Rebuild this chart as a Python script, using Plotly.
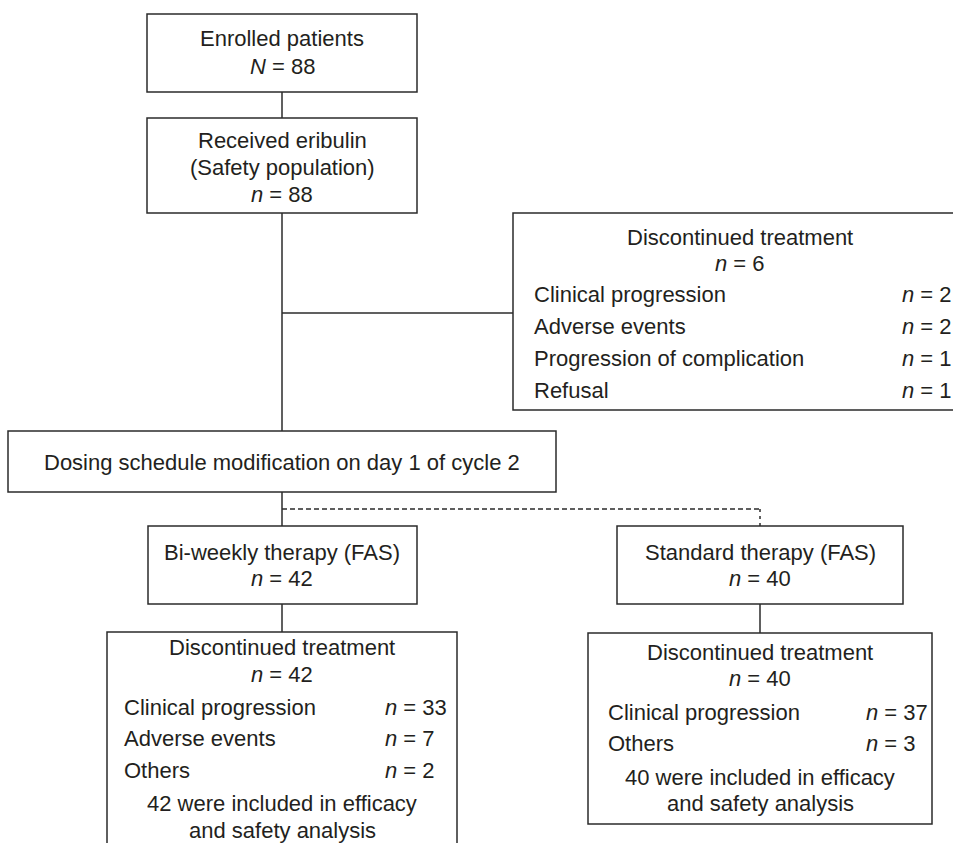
import plotly.graph_objects as go

W, H = 953, 843
FONT = "Liberation Sans, Arial, Helvetica, sans-serif"
TXT = "#231f20"
LINE = "#2b2b2b"
FS = 22

# ---- boxes: (x0, y0, x1, y1) in pixel space of the canvas ----
box_names = ["enrolled", "received", "disc_all", "dosing", "biweekly", "standard", "disc_bw", "disc_std"]
box_x0 = [147, 147, 513, 8, 148, 617, 107, 588]
box_y0 = [14, 118, 213, 431, 526, 526, 632, 633]
box_x1 = [417, 417, 958, 556, 417, 903, 457, 932]
box_y1 = [92, 213, 410, 492, 604, 604, 870, 824]

# ---- connectors ----
solid_lines = [
    ((282, 92), (282, 118)),
    ((282, 213), (282, 431)),
    ((282, 313), (513, 313)),
    ((282, 492), (282, 526)),
    ((282, 604), (282, 632)),
    ((760, 604), (760, 633)),
]
dashed_lines = [((282, 509), (760, 509))]
dotted_lines = [((760, 509), (760, 526))]

# ---- centred texts ----
center_text = [
    "Enrolled patients", "<i>N</i> = 88",
    "Received eribulin", "(Safety population)", "<i>n</i> = 88",
    "Discontinued treatment", "<i>n</i> = 6",
    "Dosing schedule modification on day 1 of cycle 2",
    "Bi-weekly therapy (FAS)", "<i>n</i> = 42",
    "Standard therapy (FAS)", "<i>n</i> = 40",
    "Discontinued treatment", "<i>n</i> = 42",
    "42 were included in efficacy", "and safety analysis",
    "Discontinued treatment", "<i>n</i> = 40",
    "40 were included in efficacy", "and safety analysis",
]
center_x = [282, 282, 282, 282, 282, 740, 740, 282, 282, 282, 760, 760,
            282, 282, 282, 282, 760, 760, 760, 760]
center_y = [38, 66, 140, 167, 194, 237, 263, 462, 552, 578, 552, 578,
            647, 674, 803, 830, 652, 678, 777, 803]

# ---- reason lists ----
reasons_all = ["Clinical progression", "Adverse events", "Progression of complication", "Refusal"]
counts_all = [2, 2, 1, 1]
reasons_bw = ["Clinical progression", "Adverse events", "Others"]
counts_bw = [33, 7, 2]
reasons_std = ["Clinical progression", "Others"]
counts_std = [37, 3]

list_specs = [
    (reasons_all, counts_all, 532, 900, [294, 326, 358, 390]),
    (reasons_bw, counts_bw, 122, 383, [707, 738, 770]),
    (reasons_std, counts_std, 606, 864, [712, 743]),
]

fig = go.Figure()
fig.add_trace(go.Scatter(x=[0, W], y=[0, H], mode="markers",
                         marker=dict(opacity=0), hoverinfo="skip", showlegend=False))

shapes = []
for x0, y0, x1, y1 in zip(box_x0, box_y0, box_x1, box_y1):
    shapes.append(dict(type="rect", xref="x", yref="y", x0=x0, y0=y0, x1=x1, y1=y1,
                       line=dict(color=LINE, width=1.5), fillcolor="rgba(0,0,0,0)"))
for (a, b) in solid_lines:
    shapes.append(dict(type="line", xref="x", yref="y", x0=a[0], y0=a[1], x1=b[0], y1=b[1],
                       line=dict(color=LINE, width=1.5)))
for (a, b) in dashed_lines:
    shapes.append(dict(type="line", xref="x", yref="y", x0=a[0], y0=a[1], x1=b[0], y1=b[1],
                       line=dict(color=LINE, width=1.5, dash="5px,3px")))
for (a, b) in dotted_lines:
    shapes.append(dict(type="line", xref="x", yref="y", x0=a[0], y0=a[1], x1=b[0], y1=b[1],
                       line=dict(color=LINE, width=1.5, dash="3px,4px")))

annotations = []
for t, x, y in zip(center_text, center_x, center_y):
    annotations.append(dict(text=t, x=x, y=y, xref="x", yref="y", showarrow=False,
                            xanchor="center", yanchor="middle",
                            font=dict(family=FONT, size=FS, color=TXT)))
for reasons, counts, lx, rx, ys in list_specs:
    for r, c, y in zip(reasons, counts, ys):
        annotations.append(dict(text=r, x=lx, y=y, xref="x", yref="y", showarrow=False,
                                xanchor="left", yanchor="middle",
                                font=dict(family=FONT, size=FS, color=TXT)))
        annotations.append(dict(text=f"<i>n</i> = {c}", x=rx, y=y, xref="x", yref="y",
                                showarrow=False, xanchor="left", yanchor="middle",
                                font=dict(family=FONT, size=FS, color=TXT)))

fig.update_layout(
    width=W, height=H,
    margin=dict(l=0, r=0, t=0, b=0),
    paper_bgcolor="white", plot_bgcolor="white",
    xaxis=dict(range=[0, W], visible=False, fixedrange=True),
    yaxis=dict(range=[H, 0], visible=False, fixedrange=True),
    shapes=shapes, annotations=annotations,
    showlegend=False,
)
fig.write_html("out.html", config={"displayModeBar": False},
               post_script="document.body.style.margin='0';document.body.style.overflow='hidden';")
